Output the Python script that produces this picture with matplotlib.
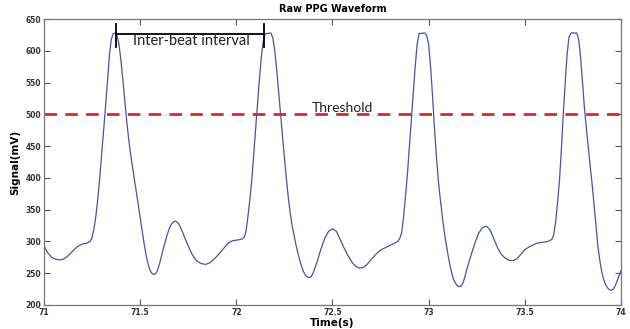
import matplotlib
matplotlib.use("Agg")
import matplotlib.pyplot as plt

# waveform samples (time in s, signal in mV)
time_s = [
    71.00, 71.02, 71.04, 71.06, 71.08, 71.10, 71.12, 71.14, 71.16, 71.18,
    71.20, 71.22, 71.24, 71.25, 71.26, 71.27, 71.28, 71.29, 71.30, 71.31,
    71.32, 71.33, 71.34, 71.35, 71.36, 71.37,
    71.38, 71.39, 71.40, 71.41, 71.42, 71.43, 71.44, 71.45, 71.46, 71.47,
    71.48, 71.49, 71.50, 71.51, 71.52, 71.53, 71.54, 71.55, 71.56, 71.57,
    71.58, 71.59, 71.60, 71.61, 71.62, 71.63, 71.64, 71.65, 71.66, 71.67,
    71.68, 71.69, 71.70, 71.71, 71.72, 71.73, 71.74, 71.75, 71.76, 71.77,
    71.78, 71.79, 71.80, 71.82, 71.84, 71.86, 71.88, 71.90, 71.92, 71.94,
    71.96, 71.98, 72.00, 72.02, 72.03, 72.04,
    72.05, 72.06, 72.07, 72.08, 72.09, 72.10, 72.11, 72.12, 72.13, 72.14,
    72.15, 72.18, 72.19, 72.20, 72.21, 72.22, 72.23, 72.24, 72.25, 72.26,
    72.27, 72.28, 72.29, 72.30, 72.31, 72.32, 72.33, 72.34, 72.35, 72.36,
    72.37, 72.38, 72.39, 72.40, 72.42, 72.44, 72.46, 72.48, 72.50, 72.52,
    72.54, 72.56, 72.58, 72.60, 72.62, 72.64, 72.66, 72.68, 72.70, 72.72,
    72.74, 72.76, 72.78, 72.80, 72.82, 72.84,
    72.85, 72.86, 72.87, 72.88, 72.89, 72.90, 72.91, 72.92, 72.93, 72.94,
    72.95, 72.98, 72.99, 73.00, 73.01, 73.02, 73.03, 73.04, 73.05, 73.06,
    73.07, 73.08, 73.09, 73.10, 73.11, 73.12, 73.13, 73.14, 73.15, 73.16,
    73.17, 73.18, 73.19, 73.20, 73.22, 73.24, 73.26, 73.28, 73.30, 73.32,
    73.34, 73.36, 73.38, 73.40, 73.42, 73.44, 73.46, 73.48, 73.50, 73.52,
    73.54, 73.56, 73.58, 73.60, 73.62, 73.64,
    73.65, 73.66, 73.67, 73.68, 73.69, 73.70, 73.71, 73.72, 73.73, 73.74,
    73.77, 73.78, 73.79, 73.80, 73.81, 73.82, 73.83, 73.84, 73.85, 73.86,
    73.87, 73.88, 73.89, 73.90, 73.91, 73.92, 73.93, 73.94, 73.95, 73.96,
    73.97, 73.98, 73.99, 74.00,
]
signal_mv = [
    293, 282, 275, 272, 271, 272, 276, 282, 288, 293,
    296, 297, 300, 306, 320, 340, 368, 400, 437, 475,
    512, 552, 592, 618, 627, 628,
    624, 610, 585, 555, 522, 490, 462, 438, 418, 398,
    378, 358, 338, 318, 298, 280, 266, 256, 250, 248,
    249, 254, 264, 276, 288, 299, 310, 319, 326, 330,
    332, 331, 328, 322, 315, 307, 300, 293, 286, 280,
    275, 271, 268, 265, 264, 266, 271, 277, 284, 291,
    298, 301, 302, 303, 304, 306,
    315, 338, 365, 395, 435, 475, 515, 555, 590, 615,
    627, 628, 620, 600, 570, 535, 500, 465, 432, 400,
    370, 345, 325, 310, 295, 282, 270, 260, 252, 247,
    244, 243, 245, 251, 268, 288, 305, 316, 320, 316,
    303, 290, 278, 268, 261, 258, 259, 264, 271, 278,
    284, 288, 291, 294, 297, 300,
    305, 314, 340, 372, 408, 450, 492, 532, 575, 610,
    627, 628, 624, 610, 575, 530, 480, 435, 397, 368,
    342, 318, 298, 280, 264, 250, 240, 234, 230, 229,
    230, 236, 246, 258, 278, 297, 313, 322, 324, 318,
    303, 289, 279, 273, 270, 270, 273, 280, 287, 291,
    294, 297, 298, 299, 300, 303,
    310, 330, 360, 395, 445, 500, 550, 595, 622, 628,
    628, 618, 590, 550, 510, 478, 448, 418, 390, 358,
    325, 292, 270, 252, 240, 232, 227, 224, 223, 225,
    230, 238, 246, 254,
]

threshold = 500
ibi_start, ibi_end, ibi_level = 71.373, 72.144, 627
x_ticks = [71, 71.5, 72, 72.5, 73, 73.5, 74]
x_tick_labels = ["71", "71.5", "72", "72.5", "73", "73.5", "74"]
y_ticks = [200, 250, 300, 350, 400, 450, 500, 550, 600, 650]

fig = plt.figure(figsize=(6.3, 3.29), dpi=100)
ax = fig.add_axes([0.0698, 0.073, 0.9159, 0.8692])

ax.plot(time_s, signal_mv, color="#5050a8", lw=0.9)
ax.axhline(threshold, color="#d42a2a", lw=2, ls=(0, (4.5, 3)))

ax.text(72.39, 504, "Threshold", fontsize=10, family="Lato", color="#222222")

# inter-beat interval bracket
ax.plot([ibi_start, ibi_end], [ibi_level, ibi_level], color="black", lw=1.3)
ax.plot([ibi_start, ibi_start], [606, 642], color="black", lw=1.3)
ax.plot([ibi_end, ibi_end], [606, 642], color="black", lw=1.3)
ax.text(71.464, 609, "Inter-beat interval", fontsize=10.5, family="Lato",
        color="#222222")

ax.set_xlim(71, 74)
ax.set_ylim(200, 650)
ax.set_xticks(x_ticks)
ax.set_xticklabels(x_tick_labels)
ax.set_yticks(y_ticks)
ax.tick_params(direction="in", length=4, width=0.8, top=True, right=True,
               labelsize=5.5, colors="#555555", pad=2)
for lab in ax.get_xticklabels() + ax.get_yticklabels():
    lab.set_fontweight("bold")
    lab.set_color("#333333")
for sp in ax.spines.values():
    sp.set_color("#777777")
    sp.set_linewidth(0.9)

ax.set_title("Raw PPG Waveform", fontsize=7, fontweight="bold", pad=5)
ax.set_xlabel("Time(s)", fontsize=7.5, fontweight="bold", labelpad=1)
ax.set_ylabel("Signal(mV)", fontsize=7.5, fontweight="bold", labelpad=4)

fig.savefig("out.png", dpi=100)
